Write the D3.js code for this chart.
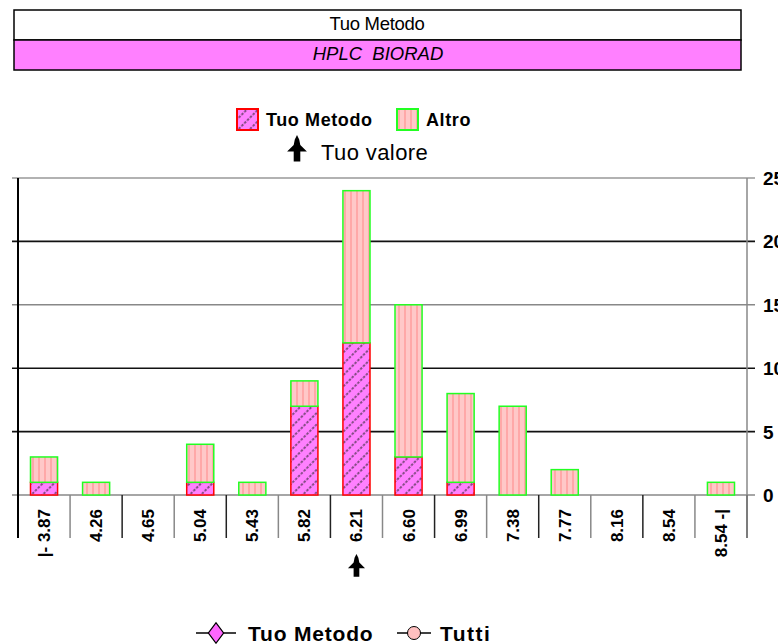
<!DOCTYPE html>
<html>
<head>
<meta charset="utf-8">
<script src="https://cdn.jsdelivr.net/npm/d3@7"></script>
<style>
  html, body { margin: 0; padding: 0; background: #fff; }
  svg { display: block; font-family: Arial, "Liberation Sans", sans-serif; }
</style>
</head>
<body>
<svg id="chart" width="778" height="644"></svg>
<script>
// ---- data ----
const categories = ["|- 3.87", "4.26", "4.65", "5.04", "5.43", "5.82", "6.21", "6.60", "6.99", "7.38", "7.77", "8.16", "8.54", "8.54 -|"];
const tuoMetodo = [1, 0, 0, 1, 0, 7, 12, 3, 1, 0, 0, 0, 0, 0];
const altro     = [2, 1, 0, 3, 1, 2, 12, 12, 7, 7, 2, 0, 0, 1];
const yTicks = [0, 5, 10, 15, 20, 25];
const tuoValoreCategory = "6.21";
const headerTitle = "Tuo Metodo";
const headerMethod = "HPLC  BIORAD";

const svg = d3.select("#chart");
const defs = svg.append("defs");

// patterns
const pT = defs.append("pattern").attr("id", "pTuo").attr("patternUnits", "userSpaceOnUse")
  .attr("width", 8).attr("height", 8).attr("patternTransform", "rotate(45)");
pT.append("rect").attr("width", 8).attr("height", 8).attr("fill", "#ff80ff");
pT.append("line").attr("x1", 4).attr("x2", 4).attr("y1", 0).attr("y2", 8)
  .attr("stroke", "#222").attr("stroke-width", 1.1).attr("stroke-dasharray", "2.5,1.5");

const pA = defs.append("pattern").attr("id", "pAltro").attr("patternUnits", "userSpaceOnUse")
  .attr("width", 6).attr("height", 6);
pA.append("rect").attr("width", 6).attr("height", 6).attr("fill", "#ffc8c8");
pA.append("line").attr("x1", 3).attr("x2", 3).attr("y1", 0).attr("y2", 6)
  .attr("stroke", "#ff9e9e").attr("stroke-width", 1.5);

// ---- header boxes ----
svg.append("rect").attr("x", 14).attr("y", 10).attr("width", 727).attr("height", 30)
  .attr("fill", "#fff").attr("stroke", "#000").attr("stroke-width", 1.5);
svg.append("rect").attr("x", 14).attr("y", 40).attr("width", 727).attr("height", 30)
  .attr("fill", "#ff80ff").attr("stroke", "#000").attr("stroke-width", 1.5);
svg.append("text").attr("x", 377).attr("y", 30).attr("text-anchor", "middle")
  .attr("font-size", 18.5).attr("letter-spacing", -0.3).text(headerTitle);
svg.append("text").attr("x", 378).attr("y", 60).attr("text-anchor", "middle")
  .attr("font-size", 18.5).attr("font-style", "italic")
  .style("white-space", "pre").text(headerMethod);

// ---- scales ----
const x = d3.scaleBand().domain(categories).range([18, 747]).paddingInner(0.48).paddingOuter(0.24);
const y = d3.scaleLinear().domain([0, 25]).range([495, 178]);
const step = x.step();

// gridlines
const gridColor = {0: "#888", 5: "#111", 10: "#111", 15: "#888", 20: "#111", 25: "#999"};
svg.append("g").selectAll("line").data(yTicks).join("line")
  .attr("x1", 12).attr("x2", 755)
  .attr("y1", d => y(d)).attr("y2", d => y(d))
  .attr("stroke", d => gridColor[d])
  .attr("stroke-width", 1.6);

// x-axis separators
const bounds = d3.range(categories.length + 1).map(i => 18 + i * step);
svg.append("g").selectAll("line").data(bounds).join("line")
  .attr("x1", d => d).attr("x2", d => d)
  .attr("y1", y(0)).attr("y2", 538)
  .attr("stroke", (d, i) => (i % 2 === 0 ? "#222" : "#888"))
  .attr("stroke-width", 1.5);

// left axis
svg.append("line").attr("x1", 18).attr("x2", 18).attr("y1", y(25)).attr("y2", 538)
  .attr("stroke", "#000").attr("stroke-width", 2);
// right axis
svg.append("line").attr("x1", 747).attr("x2", 747).attr("y1", y(25)).attr("y2", 538)
  .attr("stroke", "#888").attr("stroke-width", 1.5);

// right tick labels (clipped at the right edge as in the original)
svg.append("g").selectAll("text").data(yTicks).join("text")
  .attr("x", 763).attr("y", d => y(d) + 7)
  .attr("font-size", 19).attr("font-weight", "bold")
  .text(d => d);

// bars
const bars = svg.append("g");
categories.forEach((c, i) => {
  const t = tuoMetodo[i], a = altro[i];
  if (t > 0) {
    bars.append("rect").attr("x", x(c)).attr("width", x.bandwidth())
      .attr("y", y(t)).attr("height", y(0) - y(t))
      .attr("fill", "url(#pTuo)").attr("stroke", "#ff0000").attr("stroke-width", 1.5);
  }
  if (a > 0) {
    bars.append("rect").attr("x", x(c)).attr("width", x.bandwidth())
      .attr("y", y(t + a)).attr("height", y(t) - y(t + a))
      .attr("fill", "url(#pAltro)").attr("stroke", "#22ff22").attr("stroke-width", 1.5);
  }
});

// x labels (rotated)
svg.append("g").selectAll("text").data(categories).join("text")
  .attr("transform", d => `translate(${x(d) + x.bandwidth() / 2 + 6},509) rotate(-90)`)
  .attr("text-anchor", "end")
  .attr("font-size", 17).attr("font-weight", "bold")
  .style("white-space", "pre")
  .text(d => d);

// arrow shape
function arrow(g, cx, top, s) {
  const p = `M0,0 L2,4 L3,9 L9,15 L3,15 L3,24 L-3,24 L-3,15 L-9,15 L-3,9 L-2,4 Z`;
  g.append("path").attr("d", p).attr("fill", "#000")
    .attr("transform", `translate(${cx},${top}) scale(${s})`);
}
arrow(svg, x(tuoValoreCategory) + x.bandwidth() / 2, 554, 0.95);

// ---- legend top ----
const lg = svg.append("g");
lg.append("rect").attr("x", 237).attr("y", 109).attr("width", 21).attr("height", 21)
  .attr("fill", "url(#pTuo)").attr("stroke", "#ff0000").attr("stroke-width", 2);
lg.append("text").attr("x", 266).attr("y", 126).attr("font-size", 18).attr("font-weight", "bold")
  .attr("letter-spacing", 0.6).text("Tuo Metodo");
lg.append("rect").attr("x", 397).attr("y", 109).attr("width", 21).attr("height", 21)
  .attr("fill", "url(#pAltro)").attr("stroke", "#22ff22").attr("stroke-width", 2);
lg.append("text").attr("x", 426).attr("y", 126).attr("font-size", 18).attr("font-weight", "bold")
  .attr("letter-spacing", 0.6).text("Altro");
arrow(lg, 297, 135, 1.1);
lg.append("text").attr("x", 321).attr("y", 160).attr("font-size", 22)
  .attr("letter-spacing", 0.4).text("Tuo valore");

// ---- legend bottom ----
const lb = svg.append("g");
lb.append("line").attr("x1", 196).attr("x2", 236).attr("y1", 633).attr("y2", 633)
  .attr("stroke", "#000").attr("stroke-width", 1.5);
lb.append("path").attr("d", d3.symbol(d3.symbolDiamond, 120)())
  .attr("transform", "translate(216,633) scale(1.3,1)")
  .attr("fill", "#ff66ff").attr("stroke", "#000").attr("stroke-width", 1);
lb.append("text").attr("x", 248).attr("y", 641).attr("font-size", 21).attr("font-weight", "bold")
  .attr("letter-spacing", 0.8).text("Tuo Metodo");
lb.append("line").attr("x1", 397).attr("x2", 431).attr("y1", 633).attr("y2", 633)
  .attr("stroke", "#000").attr("stroke-width", 1.5);
lb.append("circle").attr("cx", 414).attr("cy", 633).attr("r", 6.5)
  .attr("fill", "#ffc0c0").attr("stroke", "#000").attr("stroke-width", 1);
lb.append("text").attr("x", 440).attr("y", 641).attr("font-size", 21).attr("font-weight", "bold")
  .attr("letter-spacing", 1.5).text("Tutti");
</script>
</body>
</html>
